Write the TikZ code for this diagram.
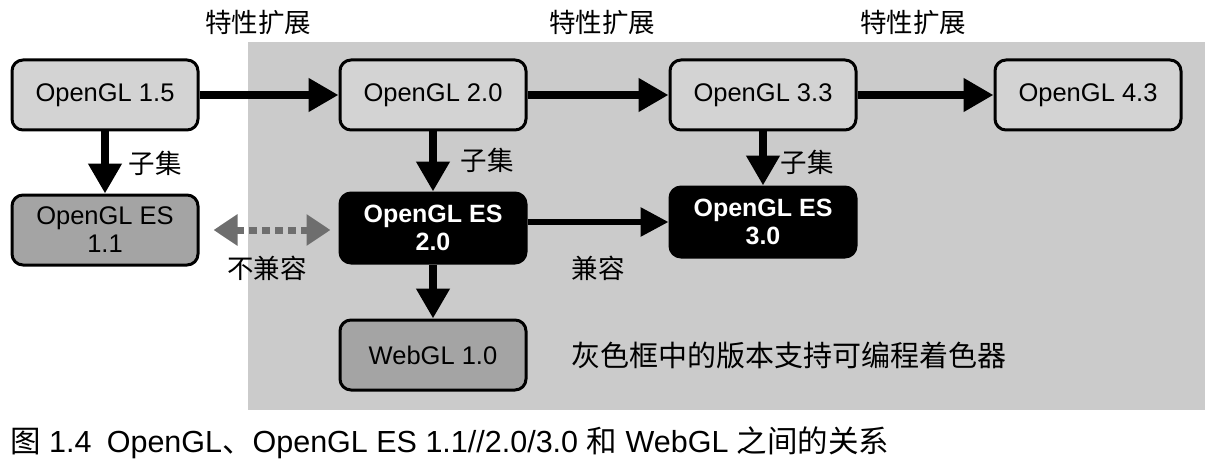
\documentclass[tikz,border=0pt]{standalone}
\usepackage{fontspec}
\setmainfont{Liberation Sans}
\newfontfamily\cjk{Noto Sans CJK SC}
\usetikzlibrary{arrows.meta}
\definecolor{bggray}{HTML}{CBCBCB}
\definecolor{lightbox}{HTML}{D3D3D3}
\definecolor{darkbox}{HTML}{A4A4A4}
\definecolor{dotgray}{HTML}{6E6E6E}
\tikzset{
  box/.style={draw=black, line width=3pt, rounded corners=11pt, minimum width=186pt, minimum height=70pt, align=center, font=\fontsize{25.5}{28}\selectfont, inner sep=0pt},
  lightbx/.style={box, fill=lightbox},
  darkbx/.style={box, fill=darkbox},
  blackbx/.style={box, fill=black, text=white, font=\fontsize{25}{28}\selectfont\bfseries},
  bigarrow/.style={line width=8pt, -{Triangle[length=30pt,width=32pt]}},
  medarrow/.style={line width=6pt, -{Triangle[length=28pt,width=28pt]}},
  dotarrow/.style={draw=dotgray, line width=7pt, dash pattern=on 8pt off 5pt, {Triangle[length=24pt,width=30pt,fill=dotgray]}-{Triangle[length=24pt,width=30pt,fill=dotgray]}, shorten <=14pt, shorten >=8pt},
  lbl/.style={font=\cjk\fontsize{26.5}{29}\selectfont, inner sep=0pt}
}
\begin{document}
\begin{tikzpicture}[x=1pt,y=-1pt]
\useasboundingbox (0,0) rectangle (1215,476);
\fill[bggray] (248,42) rectangle (1205,410);
\node[lightbx] (g15) at (105,95) {OpenGL 1.5};
\node[lightbx] (g20) at (433,95) {OpenGL 2.0};
\node[lightbx] (g33) at (763,95) {OpenGL 3.3};
\node[lightbx] (g43) at (1088,95) {OpenGL 4.3};
\node[darkbx] (es11) at (105,230) {OpenGL ES\\1.1};
\node[blackbx] (es20) at (433,228) {OpenGL ES\\2.0};
\node[blackbx] (es30) at (763,222) {OpenGL ES\\3.0};
\node[darkbx] (web) at (433,355) {WebGL 1.0};
\draw[bigarrow] (g15.east) -- (g20.west);
\draw[bigarrow] (g20.east) -- (g33.west);
\draw[bigarrow] (g33.east) -- (g43.west);
\draw[bigarrow] (g15.south) -- (es11.north);
\draw[bigarrow] (g20.south) -- (es20.north);
\draw[bigarrow] (g33.south) -- (es30.north);
\draw[bigarrow] (es20.south) -- (web.north);
\draw[medarrow] (es20.east |- es30.west) -- (es30.west);
\draw[dotarrow] (es11.east) -- (es20.west |- es11.east);
\node[lbl] (t1) at (258,22) {特性扩展};
\node[lbl] (t2) at (602,22) {特性扩展};
\node[lbl] (t3) at (913,22) {特性扩展};
\node[lbl] (s1) at (155,163) {子集};
\node[lbl] (s2) at (487,160) {子集};
\node[lbl] (s3) at (807,162) {子集};
\node[lbl] (nc) at (267,268) {不兼容};
\node[lbl] (cp) at (598,268) {兼容};
\node[font=\cjk\fontsize{29}{32}\selectfont, inner sep=0pt] (note) at (789,355) {灰色框中的版本支持可编程着色器};
\node[font=\fontsize{30.5}{33}\selectfont, inner sep=0pt, anchor=west] (cap) at (10,443) {{\cjk 图} 1.4\hspace{0.5em}OpenGL{\cjk 、}OpenGL ES 1.1//2.0/3.0 {\cjk 和} WebGL {\cjk 之间的关系}};
\end{tikzpicture}
\end{document}
